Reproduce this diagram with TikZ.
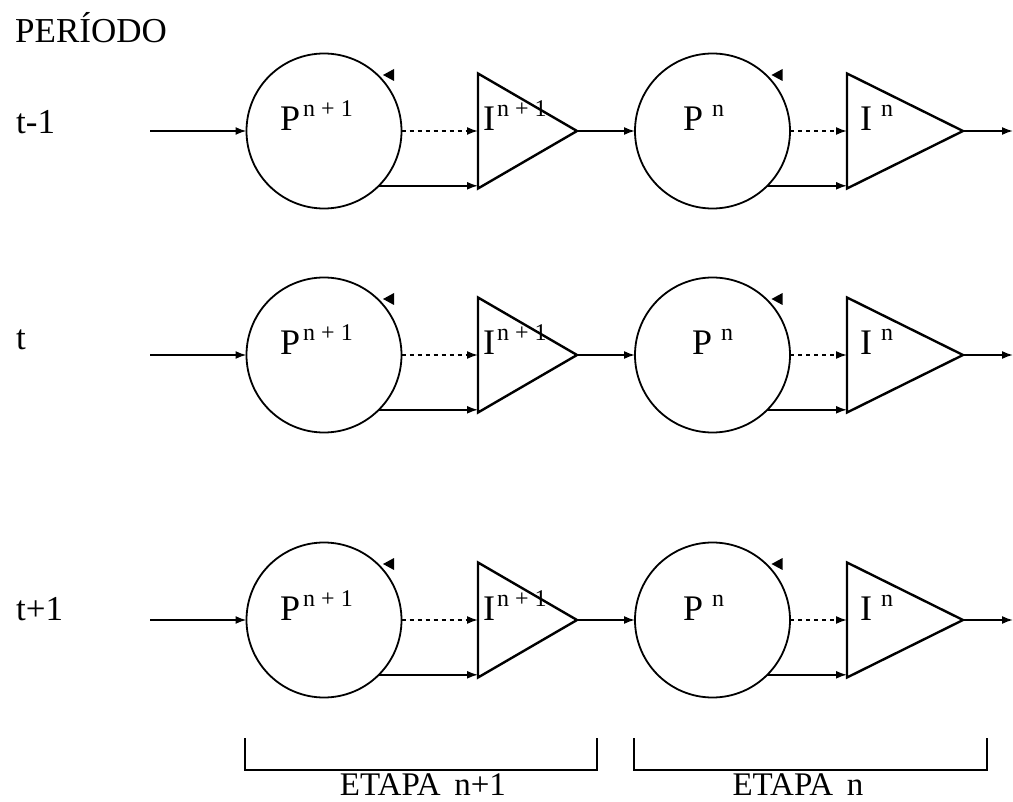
\documentclass[tikz,border=0pt]{standalone}
\usepackage{fontspec}
\setmainfont{Liberation Serif}
\usetikzlibrary{arrows.meta}
\newcommand{\ssc}[1]{\raisebox{14pt}{\fontsize{24}{24}\selectfont #1}}
\begin{document}
\begin{tikzpicture}[x=1pt,y=-1pt,
  proc/.style={circle,draw,line width=1.8pt,minimum size=155pt,inner sep=0pt,outer sep=0pt},
  tri/.style={draw,line width=2.4pt,line join=miter},
  flow/.style={line width=1.7pt,-{Latex[length=11pt,width=8pt]}},
  dflow/.style={flow,dash pattern=on 4pt off 4pt},
  lab/.style={font=\fontsize{35}{37}\selectfont,inner sep=0pt,anchor=base west},
  big/.style={font=\fontsize{36}{38}\selectfont,inner sep=0pt,anchor=base west},
  brk/.style={draw,line width=1.8pt}]
\useasboundingbox (0,0) rectangle (1013,802);

\node[lab] (periodo) at (15,43) {PERÍODO};

\foreach \r/\y/\t/\b/\px in {1/131/t-1/134/683, 2/355/t/350/692, 3/620/t+1/620/683} {
  \node[lab] (row\r) at (16,\b) {\t};
  \coordinate (in\r) at (150,\y);
  \node[proc] (pa\r) at (324,\y) {};
  \node[proc] (pb\r) at (712.5,\y) {};
  % left triangle
  \coordinate (ta\r) at (478,\y);
  \coordinate (taT\r) at (478,\y-57.5);
  \coordinate (taB\r) at (478,\y+57.5);
  \coordinate (taA\r) at (577,\y);
  \draw[tri] (taT\r) -- (taA\r) -- (taB\r) -- cycle;
  % right triangle
  \coordinate (tb\r) at (847,\y);
  \coordinate (tbT\r) at (847,\y-57.5);
  \coordinate (tbB\r) at (847,\y+57.5);
  \coordinate (tbA\r) at (963,\y);
  \draw[tri] (tbT\r) -- (tbA\r) -- (tbB\r) -- cycle;
  \coordinate (out\r) at (1013,\y);
  % connectors
  \draw[flow] (in\r) -- (pa\r.west);
  \draw[dflow] (pa\r.east) -- (ta\r);
  \draw[flow] (pa\r.-45) -- (pa\r.-45 -| ta\r);
  \draw[flow] (taA\r) -- (pb\r.west);
  \draw[dflow] (pb\r.east) -- (tb\r);
  \draw[flow] (pb\r.-45) -- (pb\r.-45 -| tb\r);
  \draw[flow] (tbA\r) -- (out\r);
  % rotation markers
  \fill (pa\r.center) ++(59,-56) -- ++(11,-6) -- ++(0,12) -- cycle;
  \fill (pb\r.center) ++(59,-56) -- ++(11,-6) -- ++(0,12) -- cycle;
  % labels
  \node[big] (lpa\r) at (280,\y) {P\hspace{3pt}\ssc{n + 1}};
  \node[big] (lpb\r) at (\px,\y) {P\hspace{9pt}\ssc{n}};
  \node[big] (lta\r) at (483,\y) {I\hspace{2pt}\ssc{n + 1}};
  \node[big] (ltb\r) at (860,\y) {I\hspace{9pt}\ssc{n}};
}

% brackets
\draw[brk] (245,738) -- (245,770) -- (597,770) -- (597,738);
\draw[brk] (634,738) -- (634,770) -- (987,770) -- (987,738);
\node[font=\fontsize{33}{35}\selectfont,inner sep=0pt,anchor=base] (etapa1) at (423,795) {ETAPA\, n+1};
\node[font=\fontsize{33}{35}\selectfont,inner sep=0pt,anchor=base] (etapa2) at (798,795) {ETAPA\, n};
\end{tikzpicture}
\end{document}
